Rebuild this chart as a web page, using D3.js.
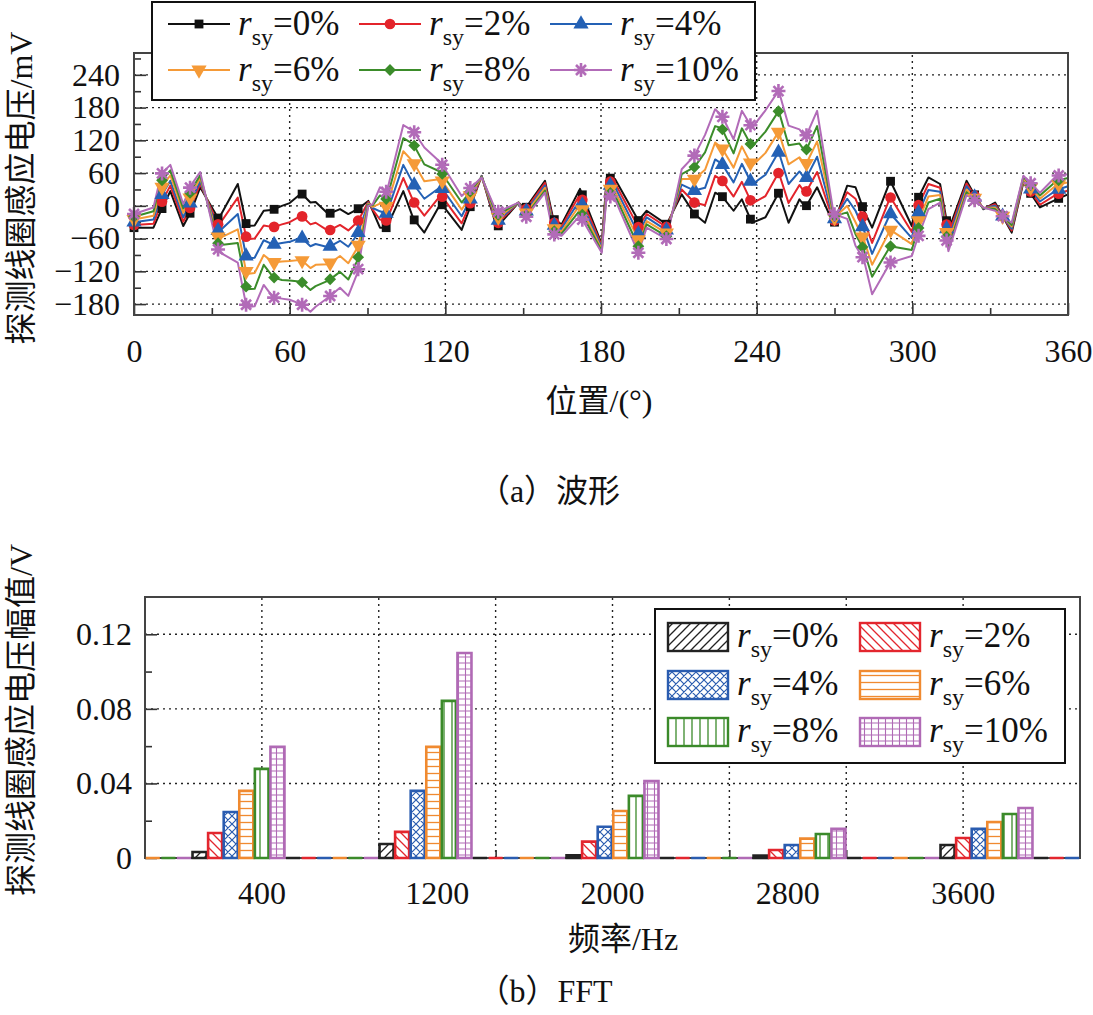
<!DOCTYPE html>
<html>
<head>
<meta charset="utf-8">
<title>探测线圈感应电压</title>
<style>
  body { margin: 0; background: #fff; }
  svg { display: block; }
  .num { font-family: "Liberation Serif", "Times New Roman", serif; font-size: 32px; fill: #111; }
  .leg { font-family: "Liberation Serif", "Times New Roman", serif; font-size: 35px; fill: #111; }
  .cjk { font-family: "Liberation Serif", "Noto Sans CJK SC", serif; font-size: 32px; fill: #111; }
  .grid line { stroke: #222; stroke-width: 1.4; stroke-dasharray: 2,4; }
  .tick line { stroke: #333; stroke-width: 1.6; }
  .frame { fill: none; stroke: #444; stroke-width: 2; }
</style>
</head>
<body>
<svg width="1093" height="1015"></svg>
<script src="https://cdnjs.cloudflare.com/ajax/libs/d3/7.8.5/d3.min.js"></script>
<script>
// ---------- data: (a) waveform ----------
var seriesNames = ["0%", "2%", "4%", "6%", "8%", "10%"];

var angle = [0,7.5,10.5,14,19,22,25.5,32.6,40,43.4,
  46.5,50,53.7,57,60,64.5,68,70,74.9,79.4,
  82.6,86.2,90.3,92,94.8,97.4,103.8,107.7,111.9,118.3,
  126.3,134,139.8,148.2,150.7,158.4,161.6,164.8,171.9,180.3,
  182.2,185.4,194.4,197.6,205.3,211.1,216,220.1,224,226.6,
  231.1,234.3,238.2,243.4,248.5,252.3,256.5,258.8,263.3,269.7,
  274.9,278.1,281.3,284.5,291.5,299.8,301.7,306.2,310.7,313.9,
  320.9,323.5,327.4,331.9,338.3,342.8,349.2,355.6,360];

var v0 = [-40,-40,-8,27,-37,-10,34,-24,40,-37,
  -36,-9,-7,0,5,23,6,7,-15,-6,
  -15,-6,9,-9,-40,-40,27,-24,-49,5,
  -44,55,-40,6,-6,46,-24,-34,31,-70,
  52,49,-27,-9,-34,21,-15,-31,24,18,
  -9,12,-31,-21,24,-31,12,-3,34,-34,
  37,34,-8,-40,46,-37,9,52,40,-46,
  46,24,-6,6,-49,43,-3,12,21];

var v2 = [-35,-33,5,37,-29,0,40,-36,15,-61,
  -60,-36,-39,-34,-30,-18,-34,-31,-46,-35,
  -45,-29,7,-7,-25,-27,51,8,-18,20,
  -32,54,-34,6,-9,42,-30,-38,21,-73,
  46,42,-39,-15,-39,30,6,1,55,47,
  17,44,4,18,61,5,38,23,62,-30,
  25,13,-26,-68,16,-48,-6,40,33,-53,
  41,22,-5,3,-45,45,2,21,28];

var v4 = [-30,-25,18,46,-21,9,45,-48,-15,-97,
  -95,-63,-71,-68,-66,-58,-74,-70,-76,-64,
  -75,-52,5,-4,-10,-14,75,40,13,35,
  -19,54,-29,6,-13,37,-35,-42,11,-76,
  40,34,-51,-21,-45,39,28,33,85,77,
  43,77,39,57,99,40,63,48,90,-26,
  13,-9,-44,-88,-14,-59,-20,29,26,-61,
  36,19,-5,0,-42,48,8,29,36];

var v6 = [-25,-18,32,56,-13,19,51,-60,-43,-125,
  -123,-90,-104,-102,-101,-99,-114,-108,-107,-92,
  -105,-76,4,-2,4,-1,100,80,45,49,
  -7,53,-23,6,-16,33,-41,-47,2,-80,
  33,27,-62,-28,-50,49,49,66,116,106,
  70,109,73,97,136,76,89,74,118,-23,
  0,-30,-62,-108,-44,-70,-35,17,20,-68,
  30,17,-4,-3,-38,50,13,38,43];

var v8 = [-20,-10,45,65,-5,28,56,-72,-68,-153,
  -152,-108,-131,-136,-137,-139,-154,-147,-137,-121,
  -135,-99,2,1,19,12,124,113,76,62,
  6,53,-18,6,-20,28,-46,-51,-8,-83,
  27,19,-74,-34,-56,58,71,98,146,142,
  96,142,108,136,174,111,114,99,146,-19,
  -12,-52,-80,-130,-74,-81,-49,6,13,-76,
  25,14,-4,-6,-35,53,19,46,51];

var v10 = [-15,-3,58,75,3,38,62,-84,-104,-186,
  -184,-145,-168,-170,-172,-180,-194,-185,-168,-150,
  -165,-122,0,3,34,25,148,137,107,79,
  18,52,-12,6,-23,24,-52,-55,-18,-86,
  21,12,-86,-40,-61,67,92,130,177,165,
  122,174,143,175,211,147,140,125,174,-15,
  -24,-73,-98,-162,-104,-92,-64,-6,6,-83,
  20,12,-3,-9,-31,55,24,55,58];

var waveTicksY = [-180, -120, -60, 0, 60, 120, 180, 240];
var waveTicksX = [0, 60, 120, 180, 240, 300, 360];

// ---------- data: (b) FFT ----------
var freq = [0, 400, 800, 1200, 1600, 2000, 2400, 2800, 3200, 3600, 4000];
var amp0  = [0, 0.0032, 0, 0.0075, 0, 0.0014, 0, 0.0013, 0, 0.0070, 0];
var amp2  = [0, 0.0134, 0, 0.0140, 0, 0.0088, 0, 0.0043, 0, 0.0107, 0];
var amp4  = [0, 0.0247, 0, 0.0360, 0, 0.0168, 0, 0.0070, 0, 0.0156, 0];
var amp6  = [0, 0.0360, 0, 0.0596, 0, 0.0252, 0, 0.0104, 0, 0.0193, 0];
var amp8  = [0, 0.0478, 0, 0.0843, 0, 0.0333, 0, 0.0129, 0, 0.0236, 0];
var amp10 = [0, 0.0596, 0, 0.1100, 0, 0.0413, 0, 0.0156, 0, 0.0268, 0];
var fftTickPos = [500, 1250, 2000, 2750, 3500];
var fftTickLabels = ["400", "1200", "2000", "2800", "3600"];
var fftTicksY = [0, 0.04, 0.08, 0.12];

var waveVals = [v0, v2, v4, v6, v8, v10];
var ampVals = [amp0, amp2, amp4, amp6, amp8, amp10];
var lineColors = ["#111111", "#e3242b", "#2461b5", "#f59a37", "#3b8c2a", "#b26bb8"];
var barColors  = ["#222222", "#e3262e", "#2a5cb0", "#f08a30", "#3b8a2a", "#b06ab5"];

var svg = d3.select("svg");

// ================= (a) waveform =================
var x1 = d3.scaleLinear().domain([0, 360]).range([134, 1068]);
var y1 = d3.scaleLinear().domain([-200, 280]).range([315, 53]);

var g1 = svg.append("g");

// grid
var grid1 = g1.append("g").attr("class", "grid");
grid1.selectAll(".gx").data(waveTicksX.slice(1, -1)).enter().append("line")
  .attr("x1", d => x1(d)).attr("x2", d => x1(d)).attr("y1", y1.range()[0]).attr("y2", y1.range()[1]);
grid1.selectAll(".gy").data(waveTicksY).enter().append("line")
  .attr("x1", x1.range()[0]).attr("x2", x1.range()[1]).attr("y1", d => y1(d)).attr("y2", d => y1(d));

// axes (ticks inside)
g1.append("g").attr("transform", "translate(0,315)")
  .call(d3.axisBottom(x1).tickValues(waveTicksX).tickSize(-12).tickPadding(24).tickFormat(d3.format("d")))
  .call(a => { a.select(".domain").remove(); a.selectAll("text").attr("class", "num").attr("fill", null); });
g1.append("g").attr("transform", "translate(0,315)")
  .call(d3.axisBottom(x1).tickValues(d3.range(30, 360, 60)).tickSize(-7).tickFormat(""))
  .call(a => a.select(".domain").remove());
g1.append("g").attr("transform", "translate(134,0)")
  .call(d3.axisLeft(y1).tickValues(waveTicksY).tickSize(-12).tickPadding(14)
    .tickFormat(d => d < 0 ? "\u2212" + Math.abs(d) : d))
  .call(a => { a.select(".domain").remove(); a.selectAll("text").attr("class", "num").attr("fill", null); });
g1.append("g").attr("transform", "translate(134,0)")
  .call(d3.axisLeft(y1).tickValues(d3.range(-150, 280, 60)).tickSize(-7).tickFormat(""))
  .call(a => a.select(".domain").remove());

// lines
var line = d3.line().x((d, i) => x1(angle[i])).y(d => y1(d));
g1.selectAll(".wave").data(waveVals).enter().append("path")
  .attr("fill", "none").attr("stroke", (d, i) => lineColors[i]).attr("stroke-width", 2)
  .attr("stroke-linejoin", "round").attr("d", line);

// markers every 10.8 deg, placed on the lines
function valueAt(vals, d) {
  var i = d3.bisectRight(angle, d);
  if (i <= 0) return vals[0];
  if (i >= angle.length) return vals[vals.length - 1];
  var t = (d - angle[i - 1]) / (angle[i] - angle[i - 1]);
  return vals[i - 1] + t * (vals[i] - vals[i - 1]);
}
var markerDeg = d3.range(0, 360, 10.8);

function drawMarker(sel, k, color) {
  if (k === 5) {
    sel.append("path")
      .attr("d", "M-7,0H7M0,-7V7M-5,-5L5,5M-5,5L5,-5")
      .attr("stroke", color).attr("stroke-width", 2.6).attr("fill", "none");
    sel.append("circle").attr("r", 3).attr("fill", color);
    return;
  }
  var sym;
  if (k === 0) sym = d3.symbol(d3.symbolSquare, 78);
  else if (k === 1) sym = d3.symbol(d3.symbolCircle, 90);
  else if (k === 2 || k === 3) sym = d3.symbol(d3.symbolTriangle, 100);
  else sym = d3.symbol(d3.symbolSquare, 70);
  var p = sel.append("path").attr("d", sym()).attr("fill", color);
  if (k === 3) p.attr("transform", "rotate(180)");
  if (k === 4) p.attr("transform", "rotate(45)");
}

waveVals.forEach(function (vals, k) {
  markerDeg.forEach(function (d) {
    var m = g1.append("g").attr("transform", "translate(" + x1(d) + "," + y1(valueAt(vals, d)) + ")");
    drawMarker(m, k, lineColors[k]);
  });
});

g1.append("rect").attr("class", "frame")
  .attr("x", 134).attr("y", 53).attr("width", 1068 - 134).attr("height", 315 - 53);

// legend (a)
function rsy(text, pct, small) {
  text.append("tspan").attr("font-style", "italic").text("r");
  text.append("tspan").attr("font-size", small).attr("dy", 10).text("sy");
  text.append("tspan").attr("dy", -10).text("=" + pct);
}
var lg1 = g1.append("g");
lg1.append("rect").attr("x", 152).attr("y", 2).attr("width", 603).attr("height", 98)
  .attr("fill", "#fff").attr("stroke", "#111").attr("stroke-width", 2);
var legCols = [168, 359, 550], legRows = [24, 70];
seriesNames.forEach(function (name, k) {
  var lx = legCols[k % 3], ly = legRows[Math.floor(k / 3)];
  lg1.append("line").attr("x1", lx).attr("x2", lx + 62).attr("y1", ly).attr("y2", ly)
    .attr("stroke", lineColors[k]).attr("stroke-width", 2);
  drawMarker(lg1.append("g").attr("transform", "translate(" + (lx + 31) + "," + ly + ")"), k, lineColors[k]);
  var t = lg1.append("text").attr("class", "leg").attr("x", lx + 70).attr("y", ly + 11);
  rsy(t, name, 24);
});

// titles (a)
svg.append("text").attr("class", "cjk").attr("text-anchor", "middle")
  .attr("transform", "translate(32,188) rotate(-90)").text("探测线圈感应电压/mV");
svg.append("text").attr("class", "cjk").attr("text-anchor", "middle")
  .attr("x", 599).attr("y", 412).text("位置/(°)");
svg.append("text").attr("class", "cjk").attr("text-anchor", "middle")
  .attr("font-size", 34).attr("x", 549).attr("y", 502).text("（a）波形");

// ================= (b) FFT =================
var x2 = d3.scaleLinear().domain([0, 4000]).range([145, 1080]);
var y2 = d3.scaleLinear().domain([0, 0.14]).range([858, 597]);

var defs = svg.append("defs");
function pattern(id, w, h, d, color, sw) {
  var p = defs.append("pattern").attr("id", id).attr("patternUnits", "userSpaceOnUse")
    .attr("width", w).attr("height", h);
  p.append("rect").attr("width", w).attr("height", h).attr("fill", "#fff");
  p.append("path").attr("d", d).attr("stroke", color).attr("stroke-width", sw).attr("fill", "none");
}
pattern("p0", 9, 9, "M0,9L9,0M-3,3L3,-3M6,12L12,6", barColors[0], 1.3);
pattern("p1", 9, 9, "M0,0L9,9M-3,6L3,12M6,-3L12,3", barColors[1], 1.3);
pattern("p2", 8, 8, "M0,0L8,8M0,8L8,0M-2,2L2,-2M6,10L10,6M-2,6L2,10M6,-2L10,2", barColors[2], 1.2);
pattern("p3", 8, 7, "M0,3.5H8", barColors[3], 1.3);
pattern("p4", 8, 8, "M4,0V8", barColors[4], 1.3);
pattern("p5", 7, 6, "M0,3H7M3.5,0V6", barColors[5], 1.1);

svg.append("clipPath").attr("id", "clip2").append("rect")
  .attr("x", 145).attr("y", 590).attr("width", 935).attr("height", 272);

var g2 = svg.append("g");
var grid2 = g2.append("g").attr("class", "grid");
grid2.selectAll("line.vx").data(d3.range(500, 4000, 500)).enter().append("line")
  .attr("x1", d => x2(d)).attr("x2", d => x2(d)).attr("y1", 858).attr("y2", 597);
grid2.selectAll("line.hy").data(fftTicksY.slice(1)).enter().append("line")
  .attr("x1", 145).attr("x2", 1080).attr("y1", d => y2(d)).attr("y2", d => y2(d));

g2.append("g").attr("transform", "translate(145,0)")
  .call(d3.axisLeft(y2).tickValues(fftTicksY).tickSize(-12).tickPadding(13)
    .tickFormat(d => d === 0 ? "0" : d3.format(".2f")(d)))
  .call(a => { a.select(".domain").remove(); a.selectAll("text").attr("class", "num").attr("fill", null); });
g2.append("g").attr("transform", "translate(145,0)")
  .call(d3.axisLeft(y2).tickValues([0.02, 0.06, 0.1]).tickSize(-7).tickFormat(""))
  .call(a => a.select(".domain").remove());
g2.append("g").attr("transform", "translate(0,858)")
  .call(d3.axisBottom(x2).tickValues(d3.range(500, 4000, 500)).tickSize(-8).tickFormat(""))
  .call(a => a.select(".domain").remove());

g2.append("rect").attr("class", "frame")
  .attr("x", 145).attr("y", 597).attr("width", 935).attr("height", 261);

var slot = x2(400) - x2(0);
var band = d3.scaleBand().domain(d3.range(6)).range([-slot / 2, slot / 2]).paddingInner(0.1).paddingOuter(0.05);

var bars = g2.append("g").attr("clip-path", "url(#clip2)");
ampVals.forEach(function (vals, k) {
  bars.selectAll(".b" + k).data(vals).enter().append("path")
    .attr("d", function (d, i) {
      var xa = x2(freq[i]) + band(k), xb = xa + band.bandwidth();
      return "M" + xa + "," + y2(0) + "V" + y2(d) + "H" + xb + "V" + y2(0) + "Z";
    })
    .attr("fill", "url(#p" + k + ")").attr("stroke", barColors[k]).attr("stroke-width", 2.6);
});

g2.selectAll(".xl").data(fftTickPos).enter().append("text").attr("class", "num")
  .attr("text-anchor", "middle").attr("x", d => x2(d)).attr("y", 904)
  .text((d, i) => fftTickLabels[i]);

// legend (b)
var lg2 = g2.append("g");
lg2.append("rect").attr("x", 655).attr("y", 609).attr("width", 410).attr("height", 154)
  .attr("fill", "#fff").attr("stroke", "#111").attr("stroke-width", 2);
var bCols = [668, 860], bRows = [637, 685, 732];
seriesNames.forEach(function (name, k) {
  var lx = bCols[k % 2], ly = bRows[Math.floor(k / 2)];
  lg2.append("rect").attr("x", lx).attr("y", ly - 14).attr("width", 60).attr("height", 28)
    .attr("fill", "url(#p" + k + ")").attr("stroke", barColors[k]).attr("stroke-width", 2.4);
  var t = lg2.append("text").attr("class", "leg").attr("x", lx + 69).attr("y", ly + 10);
  rsy(t, name, 24);
});

// titles (b)
svg.append("text").attr("class", "cjk").attr("text-anchor", "middle")
  .attr("transform", "translate(32,720) rotate(-90)").text("探测线圈感应电压幅值/V");
svg.append("text").attr("class", "cjk").attr("text-anchor", "middle")
  .attr("x", 623).attr("y", 950).text("频率/Hz");
svg.append("text").attr("class", "cjk").attr("text-anchor", "middle")
  .attr("font-size", 34).attr("x", 545).attr("y", 1002).text("（b）FFT");
</script>
</body>
</html>
